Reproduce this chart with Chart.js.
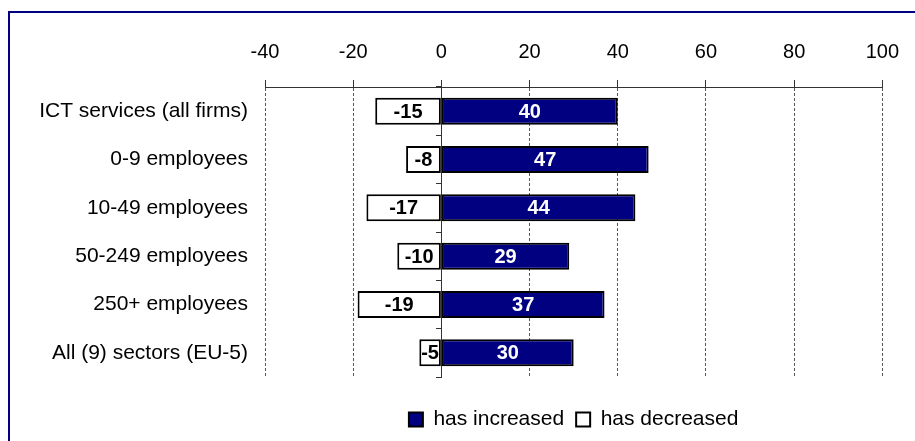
<!DOCTYPE html>
<html>
<head>
<meta charset="utf-8">
<script src="https://cdn.jsdelivr.net/npm/chart.js@4.4.1/dist/chart.umd.min.js"></script>
<style>
  html, body { margin: 0; padding: 0; background: #fff; overflow: hidden; }
  #frame { position: absolute; left: 8px; top: 11px; width: 1000px; height: 600px; border: 2px solid #000080; }
  #wrap { position: absolute; left: 0; top: 0; width: 915px; height: 441px; }
</style>
</head>
<body>
<div id="frame"></div>
<div id="wrap"><canvas id="myChart"></canvas></div>
<script>
const categories = [
    'ICT services (all firms)',
    '0-9 employees',
    '10-49 employees',
    '50-249 employees',
    '250+ employees',
    'All (9) sectors (EU-5)'
];
const increased = [40, 47, 44, 29, 37, 30];
const decreased = [-15, -8, -17, -10, -19, -5];
const xTicks = [-40, -20, 0, 20, 40, 60, 80, 100];

const FONT = 'Arial, "Liberation Sans", sans-serif';
Chart.defaults.font.family = FONT;
Chart.defaults.color = '#000';

// writes each value in the middle of its bar
const barValueLabels = {
    id: 'barValueLabels',
    afterDatasetsDraw(chart) {
        const ctx = chart.ctx;
        ctx.save();
        ctx.font = 'bold 20px ' + FONT;
        ctx.textAlign = 'center';
        ctx.textBaseline = 'middle';
        chart.data.datasets.forEach((ds, i) => {
            chart.getDatasetMeta(i).data.forEach((bar, j) => {
                const { x, y, base } = bar.getProps(['x', 'y', 'base'], true);
                ctx.fillStyle = ds.labelColor;
                ctx.fillText(String(ds.data[j]), (x + base) / 2, y + 1);
            });
        });
        ctx.restore();
    }
};

const setChart = () => {
    const ctx = document.getElementById('myChart');
    if (!ctx) return;
    new Chart(ctx, {
        type: 'bar',
        data: {
            labels: categories,
            datasets: [{
                label: 'has increased',
                data: increased,
                backgroundColor: '#000080',
                borderColor: '#000',
                borderWidth: 2,
                borderSkipped: false,
                labelColor: '#fff'
            }, {
                label: 'has decreased',
                data: decreased,
                backgroundColor: '#fff',
                borderColor: '#000',
                borderWidth: 2,
                borderSkipped: false,
                labelColor: '#000'
            }]
        },
        options: {
            indexAxis: 'y',
            responsive: true,
            maintainAspectRatio: false,
            animation: false,
            categoryPercentage: 1,
            barPercentage: 0.56,
            layout: { padding: { left: 0, right: 30, top: 0, bottom: 1 } },
            scales: {
                x: {
                    position: 'top',
                    stacked: true,
                    min: -40,
                    max: 100,
                    afterBuildTicks: s => { s.ticks = xTicks.map(v => ({ value: v })); },
                    afterFit: s => { s.height = 87; },
                    grid: {
                        color: '#585858',
                        tickColor: '#333',
                        tickBorderDash: [],
                        tickLength: 7
                    },
                    // dash here applies to the grid lines, the axis line stays solid
                    border: { display: true, color: '#333', width: 1, dash: [3, 2] },
                    ticks: { color: '#000', font: { size: 20 }, padding: 16, maxRotation: 0 }
                },
                y: {
                    stacked: true,
                    afterFit: s => { s.width = 265; },
                    grid: { display: false, drawTicks: false },
                    border: { display: false },
                    ticks: { color: '#000', font: { size: 21 }, padding: 17 }
                },
                zero: {
                    axis: 'y',
                    type: 'category',
                    position: { x: 0 },
                    offset: true,
                    afterFit: s => { s.width = 0; },
                    grid: { offset: true, drawOnChartArea: false, tickLength: 5, color: '#333' },
                    border: { display: true, color: '#333', width: 1 },
                    ticks: { display: false }
                }
            },
            plugins: {
                legend: {
                    position: 'bottom',
                    fullSize: false,
                    title: { display: true, text: '', font: { size: 10 }, padding: { top: 0, bottom: 8 } },
                    labels: {
                        color: '#000',
                        font: { size: 21 },
                        boxWidth: 14,
                        boxHeight: 14,
                        padding: 12
                    }
                },
                tooltip: { enabled: false }
            }
        },
        plugins: [barValueLabels]
    });
};

setChart();
</script>
</body>
</html>
